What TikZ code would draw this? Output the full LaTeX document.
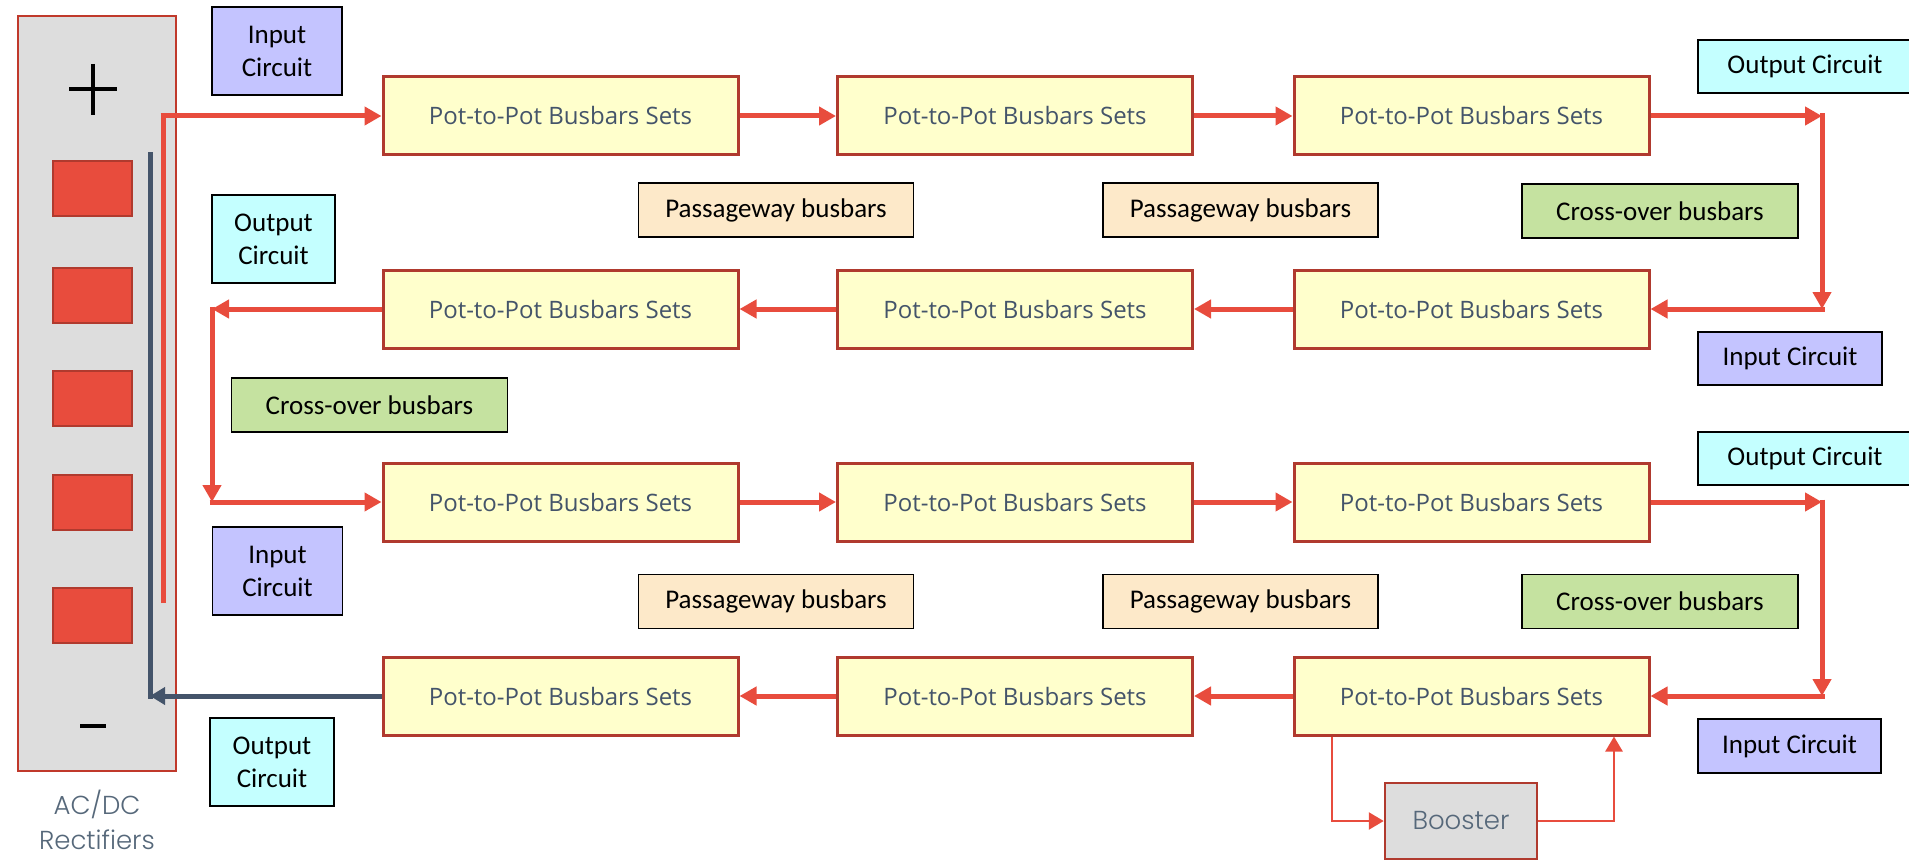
\documentclass[tikz,border=0pt]{standalone}
\usepackage{fontspec}
\setmainfont{Carlito}
\newfontfamily\potfont{Open Sans}
\newfontfamily\litefont{Poppins Light}
\usetikzlibrary{arrows.meta}
\definecolor{arrowred}{HTML}{E84C3D}
\definecolor{potfill}{HTML}{FFFFCC}
\definecolor{potborder}{HTML}{B03A2E}
\definecolor{pottext}{HTML}{44546A}
\definecolor{infill}{HTML}{C4C4FF}
\definecolor{outfill}{HTML}{C4FFFF}
\definecolor{crossfill}{HTML}{C5E2A0}
\definecolor{passfill}{HTML}{FDE9C9}
\definecolor{greyfill}{HTML}{DDDDDD}
\definecolor{rectborder}{HTML}{C0392B}
\definecolor{darkline}{HTML}{44546A}
\definecolor{softtext}{HTML}{56687A}
\begin{document}
\begin{tikzpicture}[x=1pt,y=-1pt,
  potbox/.style={draw=potborder, line width=3pt, fill=potfill, minimum width=355pt, minimum height=78pt, inner sep=0pt, text=pottext, font=\potfont\fontsize{24}{28}\selectfont},
  labbox/.style={draw=black, line width=1.8pt, inner sep=0pt, align=center, font=\fontsize{27}{33}\selectfont},
  inbox/.style={labbox, fill=infill},
  outbox/.style={labbox, fill=outfill},
  crossbox/.style={labbox, fill=crossfill, minimum width=276pt, minimum height=54pt},
  passbox/.style={labbox, fill=passfill, minimum width=275pt, minimum height=54pt},
  redarrow/.style={draw=arrowred, line width=5pt, -{Triangle[length=17pt,width=18pt]}},
  redline/.style={draw=arrowred, line width=5pt},
  thinarrow/.style={draw=arrowred, line width=2.5pt, -{Triangle[length=15pt,width=17pt]}},
  darkbar/.style={draw=darkline, line width=5pt},
  darkarrow/.style={draw=darkline, line width=5pt, -{Triangle[length=15pt,width=17pt]}},
  cell/.style={draw=potborder, line width=2pt, fill=arrowred, minimum width=79pt, minimum height=55pt, inner sep=0pt},
  signline/.style={draw=black, line width=4.5pt}
]
\useasboundingbox (0,0) rectangle (1909,861);

% rectifier block
\node[draw=rectborder, line width=2.5pt, fill=greyfill, minimum width=158pt, minimum height=755pt, inner sep=0pt] (rect) at (97,393.5) {};
\foreach \i/\yy in {1/189,2/295.5,3/398.5,4/502.5,5/615} {
  \node[cell] (cell\i) at (92.5,\yy) {};
}
\coordinate (plh1) at (69,89); \coordinate (plh2) at (117,89);
\coordinate (plv1) at (93,64); \coordinate (plv2) at (93,115);
\draw[signline, line width=4pt] (plh1) -- (plh2);
\draw[signline, line width=4pt] (plv1) -- (plv2);
\coordinate (mi1) at (80,726); \coordinate (mi2) at (106,726);
\draw[signline] (mi1) -- (mi2);
\node[text=softtext, align=center, font=\litefont\fontsize{26}{35}\selectfont] (rectlabel) at (97,820) {AC/DC\\Rectifiers};

% pot-to-pot boxes
\foreach \r/\yy in {1/116,2/309,3/502,4/696} {
  \node[potbox] (r\r a) at (560.5,\yy) {Pot-to-Pot Busbars Sets};
  \node[potbox] (r\r b) at (1015,\yy) {Pot-to-Pot Busbars Sets};
  \node[potbox] (r\r c) at (1471.5,\yy) {Pot-to-Pot Busbars Sets};
}

% labels
\node[inbox, minimum width=130pt, minimum height=88pt] (in1) at (277,51) {Input\\Circuit};
\node[outbox, minimum width=214pt, minimum height=53pt] (out1) at (1805,66.5) {Output Circuit};
\node[crossbox] (x1) at (1660,211) {Cross-over busbars};
\node[passbox] (p1) at (776,210) {Passageway busbars};
\node[passbox] (p2) at (1240.5,210) {Passageway busbars};
\node[outbox, minimum width=123pt, minimum height=88pt] (out2) at (273.5,239) {Output\\Circuit};
\node[inbox, minimum width=184pt, minimum height=53pt] (in2) at (1790,358.5) {Input Circuit};
\node[crossbox] (x2) at (369.5,405) {Cross-over busbars};
\node[inbox, minimum width=130pt, minimum height=88pt] (in3) at (277.5,571) {Input\\Circuit};
\node[outbox, minimum width=214pt, minimum height=53pt] (out3) at (1805,458.5) {Output Circuit};
\node[crossbox] (x3) at (1660,601.5) {Cross-over busbars};
\node[passbox] (p3) at (776,601.5) {Passageway busbars};
\node[passbox] (p4) at (1240.5,601.5) {Passageway busbars};
\node[inbox, minimum width=183pt, minimum height=54pt] (in4) at (1789.5,746) {Input Circuit};
\node[outbox, minimum width=124pt, minimum height=88pt] (out4) at (272,762) {Output\\Circuit};

% booster
\node[draw=potborder, line width=2.5pt, fill=greyfill, minimum width=152pt, minimum height=76pt, inner sep=0pt, text=softtext, font=\litefont\fontsize{26}{30}\selectfont] (boost) at (1461,821) {Booster};

% corner points
\coordinate (rs) at (163,603);
\coordinate (rt) at (163,116);
\coordinate (ds) at (150,155);
\coordinate (dc) at (150,696);
\coordinate (c1) at (1822,116);
\coordinate (c2) at (1822,309);
\coordinate (c3) at (1822,502);
\coordinate (c4) at (1822,696);
\coordinate (l1) at (212,309);
\coordinate (l2) at (212,502);
\coordinate (bo1) at (1332,821);
\coordinate (bo2) at (1614,821);

% rectifier feed
\draw[redline] (rs) -- (rt);
\draw[redarrow] ([xshift=-2.5pt]rt) -- (r1a.west);
\draw[darkbar, line cap=rect] (ds) -- (dc);
\draw[darkarrow] (r4a.west) -- (dc);

% row 1
\draw[redarrow] (r1a.east) -- (r1b.west);
\draw[redarrow] (r1b.east) -- (r1c.west);
\draw[redarrow] (r1c.east) -- (c1);
\draw[redarrow, shorten <=-2.5pt] (c1) -- (c2);
\draw[redarrow, shorten <=-2.5pt] (c2) -- (r2c.east);
% row 2
\draw[redarrow] (r2c.west) -- (r2b.east);
\draw[redarrow] (r2b.west) -- (r2a.east);
\draw[redarrow] (r2a.west) -- (l1);
\draw[redarrow, shorten <=-2.5pt] (l1) -- (l2);
\draw[redarrow, shorten <=-2.5pt] (l2) -- (r3a.west);
% row 3
\draw[redarrow] (r3a.east) -- (r3b.west);
\draw[redarrow] (r3b.east) -- (r3c.west);
\draw[redarrow] (r3c.east) -- (c3);
\draw[redarrow, shorten <=-2.5pt] (c3) -- (c4);
\draw[redarrow, shorten <=-2.5pt] (c4) -- (r4c.east);
% row 4
\draw[redarrow] (r4c.west) -- (r4b.east);
\draw[redarrow] (r4b.west) -- (r4a.east);

% booster loop
\draw[thinarrow] (r4c.south -| bo1) |- (boost.west);
\draw[thinarrow] (boost.east) -| (r4c.south -| bo2);
\end{tikzpicture}
\end{document}
